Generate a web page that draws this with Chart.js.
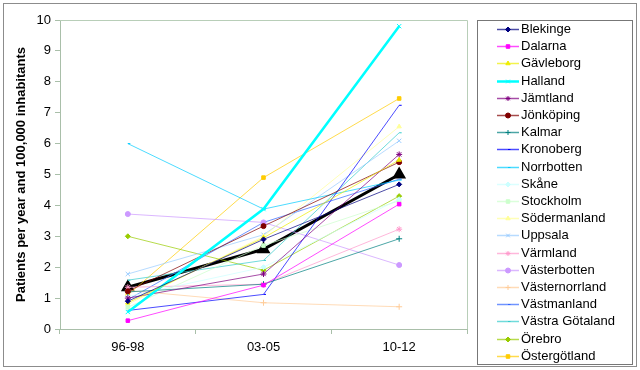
<!DOCTYPE html>
<html><head><meta charset="utf-8">
<script src="https://cdn.jsdelivr.net/npm/chart.js@4/dist/chart.umd.min.js"></script>
<style>html,body{margin:0;padding:0;background:#fff}#wrap{width:640px;height:370px}</style>
</head><body><div id="wrap"><canvas id="c" width="640" height="370"></canvas></div>
<script>
const categories = ['96-98', '03-05', '10-12'];
const yTicks = [0,1,2,3,4,5,6,7,8,9,10];
const yTitle = 'Patients per year and 100,000 inhabitants';

const regions = ['Blekinge','Dalarna','Gävleborg','Halland','Jämtland','Jönköping','Kalmar','Kronoberg','Norrbotten','Skåne','Stockholm','Södermanland','Uppsala','Värmland','Västerbotten','Västernorrland','Västmanland','Västra Götaland','Örebro','Östergötland'];

const blekinge       = [0.90, 2.90, 4.68];
const dalarna        = [0.27, 1.42, 4.04];
const gavleborg      = [0.85, 2.95, 5.47];
const halland        = [0.55, 3.88, 9.80];
const jamtland       = [1.00, 1.78, 5.65];
const jonkoping      = [1.22, 3.33, 5.40];
const kalmar         = [1.20, 1.45, 2.92];
const kronoberg      = [0.60, 1.12, 7.24];
const norrbotten     = [6.00, 3.88, 4.82];
const skane          = [1.05, 2.00, 4.20];
const stockholm      = [0.70, 2.70, 4.15];
const sodermanland   = [0.80, 3.00, 6.55];
const uppsala        = [1.78, 3.05, 6.09];
const varmland       = [1.35, 1.45, 3.23];
const vasterbotten   = [3.72, 3.45, 2.07];
const vasternorrland = [1.25, 0.85, 0.72];
const vastmanland    = [0.95, 3.45, 4.85];
const vastraGotaland = [1.58, 2.22, 6.35];
const orebro         = [3.00, 1.90, 4.30];
const ostergotland   = [1.10, 4.90, 7.46];
const average        = [1.35, 2.58, 5.00];

const seriesValues = [blekinge, dalarna, gavleborg, halland, jamtland, jonkoping, kalmar, kronoberg, norrbotten, skane, stockholm, sodermanland, uppsala, varmland, vasterbotten, vasternorrland, vastmanland, vastraGotaland, orebro, ostergotland];

const colors = ['#000080','#FF00FF','#EEEE00','#00FFFF','#800080','#800000','#008080','#0000FF','#00CCFF','#CCFFFF','#CCFFCC','#FFFF99','#99CCFF','#FF99CC','#CC99FF','#FFCC99','#3366FF','#33CCCC','#99CC00','#FFCC00'];
const markers = ['rectRot','rect','triangle','crossRot','star','circle','cross','dash','dash','rectRot','rect','triangle','crossRot','star','circle','cross','dash','dash','rectRot','rect'];

function soften(hex, a) {
  const n = parseInt(hex.slice(1), 16);
  return 'rgba(' + ((n >> 16) & 255) + ',' + ((n >> 8) & 255) + ',' + (n & 255) + ',' + a + ')';
}

const datasets = regions.map((r, i) => ({
  label: r,
  data: seriesValues[i],
  borderColor: r === 'Halland' ? colors[i] : soften(colors[i], 0.7),
  backgroundColor: colors[i],
  pointBorderColor: colors[i],
  legendColor: colors[i],
  borderWidth: r === 'Halland' ? 2.5 : 1,
  pointStyle: markers[i],
  pointRadius: (markers[i] === 'crossRot' || markers[i] === 'cross' || markers[i] === 'star') ? 3 : 2.5,
  pointBorderWidth: 1,
  tension: 0
}));
datasets.push({
  label: 'Medel',
  data: average,
  borderColor: '#000',
  backgroundColor: '#000',
  borderWidth: 3,
  pointStyle: 'triangle',
  pointRadius: 5,
  tension: 0
});

const deco = {
  id: 'deco',
  beforeDraw(chart) {
    const ctx = chart.ctx;
    ctx.save();
    ctx.fillStyle = '#fff';
    ctx.fillRect(0, 0, chart.width, chart.height);
    ctx.restore();
  },
  afterDraw(chart) {
    const ctx = chart.ctx;
    const a = chart.chartArea;
    ctx.save();
    ctx.strokeStyle = '#8c8c8c';
    ctx.lineWidth = 1;
    ctx.strokeRect(3.5, 3.5, 633, 363);
    ctx.strokeStyle = '#b8ceb8';
    ctx.beginPath();
    ctx.moveTo(a.left, a.top + 0.5);
    ctx.lineTo(a.right + 0.5, a.top + 0.5);
    ctx.lineTo(a.right + 0.5, a.bottom);
    ctx.stroke();
    ctx.strokeStyle = '#777';
    ctx.strokeRect(477.5, 20.5, 155, 344);
    ctx.font = '13px "Liberation Sans", Arial, sans-serif';
    ctx.textBaseline = 'middle';
    chart.data.datasets.forEach((ds, i) => {
      if (i >= regions.length) return;
      const y = Math.round(29 + i * 17.2) + 0.5;
      ctx.strokeStyle = ds.borderColor;
      ctx.lineWidth = ds.borderWidth === 1 ? 1.5 : 2.5;
      ctx.beginPath();
      ctx.moveTo(497, y);
      ctx.lineTo(519, y);
      ctx.stroke();
      ctx.fillStyle = ds.legendColor;
      ctx.strokeStyle = ds.legendColor;
      ctx.lineWidth = 1;
      Chart.helpers.drawPoint(ctx, {pointStyle: ds.pointStyle, radius: 2.5, rotation: 0, borderWidth: 1}, 508, y);
      ctx.fillStyle = '#000';
      ctx.fillText(ds.label, 521, y);
    });
    ctx.restore();
  }
};

new Chart(document.getElementById('c'), {
  type: 'line',
  data: { labels: categories, datasets },
  options: {
    responsive: false,
    animation: false,
    layout: { padding: { left: 0, right: 173, top: 20, bottom: 0 } },
    plugins: { legend: { display: false }, tooltip: { enabled: false } },
    scales: {
      x: {
        offset: true,
        grid: { display: true, drawOnChartArea: false, offset: true, tickLength: 5, color: '#a9bfa9' },
        border: { color: '#a9bfa9', width: 1 },
        ticks: { color: '#000', font: { size: 13, family: '"Liberation Sans", Arial' }, padding: 6, maxRotation: 0 },
        afterFit(s) { s.height = 41; }
      },
      y: {
        min: 0, max: 10,
        afterBuildTicks(s) { s.ticks = yTicks.map(v => ({ value: v })); },
        grid: { display: true, drawOnChartArea: false, tickLength: 5, color: '#a9bfa9' },
        border: { color: '#a9bfa9', width: 1 },
        ticks: { color: '#000', font: { size: 13, family: '"Liberation Sans", Arial' }, padding: 4 },
        title: { display: true, text: yTitle, color: '#000', font: { size: 13, weight: 'bold', family: '"Liberation Sans", Arial' }, padding: { top: 14, bottom: 0 } },
        afterFit(s) { s.width = 60; }
      }
    }
  },
  plugins: [deco]
});
</script></body></html>
